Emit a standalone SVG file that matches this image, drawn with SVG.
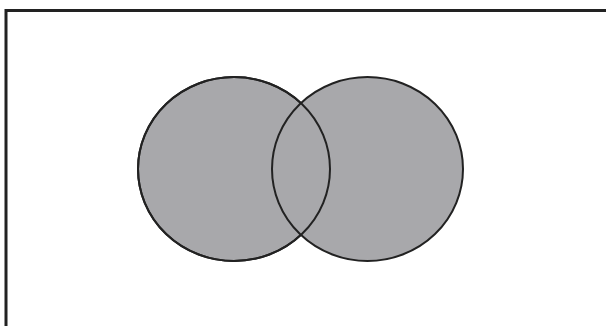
<svg xmlns="http://www.w3.org/2000/svg" width="606" height="326" viewBox="0 0 606 326">
<style>
.set{fill:#a8a8ab;stroke:#222;stroke-width:2}
.outline{fill:none;stroke:#222;stroke-width:2}
</style>
<rect width="606" height="326" fill="#fff"/>
<g id="frame"><rect x="6" y="10.5" width="620" height="340" fill="none" stroke="#222" stroke-width="3"/></g>
<g id="setA"><ellipse class="set" cx="234" cy="169" rx="96" ry="92"/></g>
<g id="setB"><ellipse class="set" cx="367.5" cy="169" rx="95.5" ry="92"/></g>
<g id="connectors"><ellipse class="outline" cx="234" cy="169" rx="96" ry="92"/></g>
</svg>
